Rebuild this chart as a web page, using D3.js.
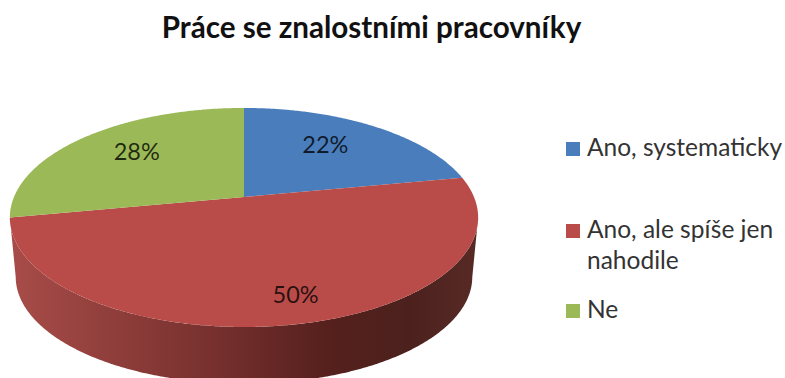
<!DOCTYPE html>
<html lang="cs">
<head>
<meta charset="utf-8">
<title>Práce se znalostními pracovníky</title>
<script src="https://cdn.jsdelivr.net/npm/d3@7/dist/d3.min.js"></script>
<style>
  html, body { margin: 0; padding: 0; background: #fff; }
  svg { display: block; }
  text { font-family: Lato, "Open Sans", sans-serif; }
</style>
</head>
<body>
<svg id="chart" width="785" height="378"></svg>
<script>
const chartTitle = "Práce se znalostními pracovníky";
const categories = ["Ano, systematicky", "Ano, ale spíše jen nahodile", "Ne"];
const legendLines = [["Ano, systematicky"], ["Ano, ale spíše jen", "nahodile"], ["Ne"]];
const shares = [22, 50, 28];
const sliceColors = ["#4a7dbb", "#b94c49", "#9bb956"];

const svg = d3.select("#chart");

// Tilted disc: a unit circle seen in perspective, with the near edge larger.
const centerX = 244, centerY = 197;
const halfWidth = 230, halfHeight = 105.7, perspective = 0.187;
const wallDrop = 60, wallScale = 0.975;

function project(angle, radius, drop = 0, scale = 1) {
  const x = Math.sin(angle) * radius, y = Math.cos(angle) * radius;
  const d = 1 + perspective * y;
  return [
    centerX + scale * halfWidth * x / d,
    centerY + drop - scale * halfHeight * y / d
  ];
}

const pie = d3.pie().sort(null).value(d => d)(shares);
const lineGen = d3.line();

// Outline samples along an arc of the disc, one every half degree.
function arcPoints(a0, a1, drop, scale) {
  const n = Math.max(2, Math.ceil(Math.abs(a1 - a0) / (Math.PI / 360)));
  return d3.range(n + 1).map(i => project(a0 + (a1 - a0) * i / n, 1, drop, scale));
}

// Side wall of the disc, shaded from the lit left side to the dark right side.
const defs = svg.append("defs");
const wallGradient = defs.append("linearGradient")
  .attr("id", "wallShade")
  .attr("gradientUnits", "userSpaceOnUse")
  .attr("x1", 11).attr("x2", 478).attr("y1", 0).attr("y2", 0);
[[0, "#a84c49"], [0.22, "#8f3e3b"], [0.45, "#752f2d"], [0.68, "#55201d"], [0.85, "#4c211d"], [1, "#572a25"]]
  .forEach(([o, c]) => wallGradient.append("stop").attr("offset", o).attr("stop-color", c));

const rightExtreme = Math.PI / 2 + 0.19, leftExtreme = 3 * Math.PI / 2 - 0.19;
svg.append("path")
  .attr("d", lineGen([
    ...arcPoints(rightExtreme, leftExtreme, 0, 1),
    ...arcPoints(leftExtreme, rightExtreme, wallDrop, wallScale)
  ]) + "Z")
  .attr("fill", "url(#wallShade)");

// Top face slices.
svg.append("g").selectAll("path")
  .data(pie)
  .join("path")
  .attr("d", d => lineGen([project(0, 0), ...arcPoints(d.startAngle, d.endAngle, 0, 1)]) + "Z")
  .attr("fill", (d, i) => sliceColors[i]);

// Percentage labels sit inside their slices; the radius and turn keep them clear of the rim.
const labelRadius = [0.67, 0.81, 0.687];
const labelTurn = [-0.07, -0.05, 0.05];
const totalShare = d3.sum(shares);
svg.append("g").selectAll("text")
  .data(pie)
  .join("text")
  .attr("transform", (d, i) => {
    const [x, y] = project((d.startAngle + d.endAngle) / 2 + labelTurn[i], labelRadius[i]);
    return `translate(${x},${y})`;
  })
  .attr("text-anchor", "middle")
  .attr("dy", "0.36em")
  .attr("font-size", 23.5)
  .attr("fill", "#000")
  .attr("fill-opacity", 0.78)
  .text(d => d3.format(".0%")(d.value / totalShare));

// Title
svg.append("text")
  .attr("x", 371.5).attr("y", 38)
  .attr("text-anchor", "middle")
  .attr("font-size", 29.6)
  .attr("font-weight", 700)
  .attr("fill", "#111")
  .text(chartTitle);

// Legend
const legendBaselines = [156, 238, 318];
const legend = svg.append("g").selectAll("g")
  .data(categories)
  .join("g");
legend.append("rect")
  .attr("x", 566)
  .attr("y", (d, i) => legendBaselines[i] - 14)
  .attr("width", 14).attr("height", 14)
  .attr("fill", (d, i) => sliceColors[i]);
legend.append("text")
  .attr("font-size", 24.5)
  .attr("fill", "#333")
  .selectAll("tspan")
  .data((d, i) => legendLines[i].map((line, j) => ({ line, j, base: legendBaselines[i] })))
  .join("tspan")
  .attr("x", 587)
  .attr("y", d => d.base + d.j * 31)
  .text(d => d.line);
</script>
</body>
</html>
